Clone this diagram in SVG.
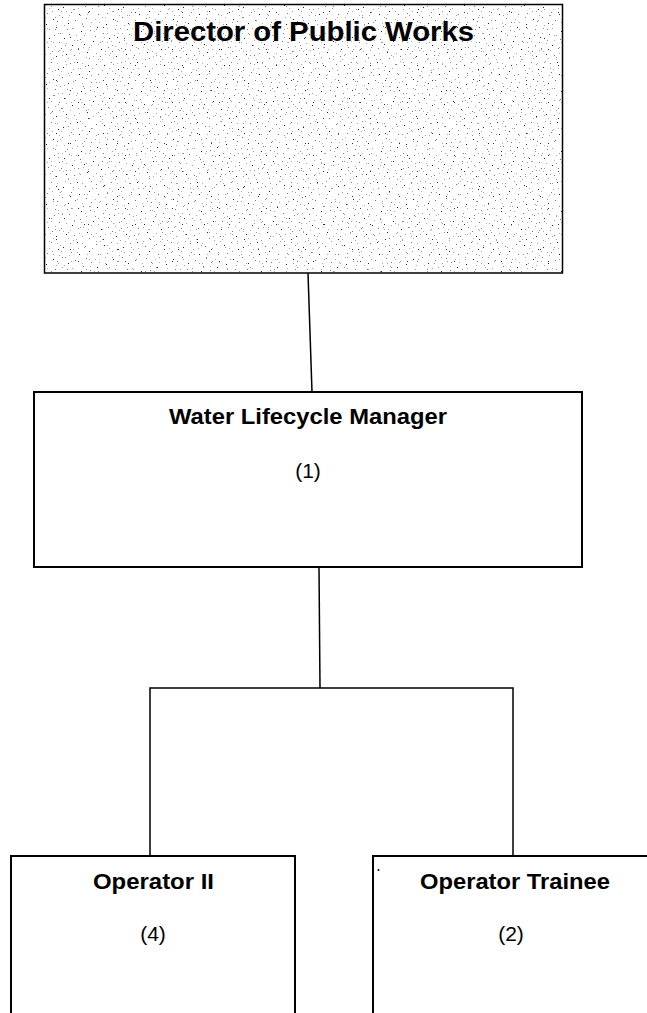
<svg xmlns="http://www.w3.org/2000/svg" width="647" height="1013" viewBox="0 0 647 1013">
<style>
.box{fill:#fff;stroke:#000;stroke-width:2}
.title{font-family:"Liberation Sans",Arial,sans-serif;font-weight:bold;text-anchor:middle;fill:#000}
.count{font-family:"Liberation Sans",Arial,sans-serif;text-anchor:middle;fill:#000}
.conn{stroke:#000;stroke-width:1.5;fill:none}
</style>
<defs>
<pattern id="stipple" x="0" y="0" width="60" height="60" patternUnits="userSpaceOnUse">
<rect width="60" height="60" fill="#fff"/>
<path fill="#aaa" d="M5 1h1v1h-1z M13 9h1v1h-1z M22 3h1v1h-1z M32 8h1v1h-1z M40 1h1v1h-1z M49 8h1v1h-1z M57 3h1v1h-1z M1 11h1v1h-1z M9 15h1v1h-1z M18 8h1v1h-1z M27 14h1v1h-1z M35 19h1v1h-1z M45 17h1v1h-1z M52 11h1v1h-1z M59 15h1v1h-1z M4 25h1v1h-1z M12 28h1v1h-1z M22 23h1v1h-1z M30 26h1v1h-1z M39 22h1v1h-1z M47 28h1v1h-1z M56 25h1v1h-1z M2 33h1v1h-1z M16 35h1v1h-1z M25 33h1v1h-1z M34 31h1v1h-1z M44 37h1v1h-1z M51 41h1v1h-1z M58 33h1v1h-1z M6 43h1v1h-1z M14 40h1v1h-1z M23 47h1v1h-1z M31 45h1v1h-1z M38 44h1v1h-1z M47 42h1v1h-1z M55 46h1v1h-1z M3 51h1v1h-1z M10 50h1v1h-1z M19 53h1v1h-1z M28 49h1v1h-1z M36 53h1v1h-1z M45 54h1v1h-1z M53 58h1v1h-1z M8 58h1v1h-1z M16 59h1v1h-1z M33 56h1v1h-1z M42 59h1v1h-1z M50 53h1v1h-1z M59 50h1v1h-1z M21 42h1v1h-1z"/>
<path fill="#777" d="M10 3h1v1h-1z M25 6h1v1h-1z M38 14h1v1h-1z M51 2h1v1h-1z M2 17h1v1h-1z M15 20h1v1h-1z M31 22h1v1h-1z M43 33h1v1h-1z M55 29h1v1h-1z M9 34h1v1h-1z M20 39h1v1h-1z M35 36h1v1h-1z M48 47h1v1h-1z M59 42h1v1h-1z M14 55h1v1h-1z M29 58h1v1h-1z M40 56h1v1h-1z M52 51h1v1h-1z M1 48h1v1h-1z M23 26h1v1h-1z M36 4h1v1h-1z M47 13h1v1h-1z M57 21h1v1h-1z M11 12h1v1h-1z M30 30h1v1h-1z M42 41h1v1h-1z M18 48h1v1h-1z M7 29h1v1h-1z M26 18h1v1h-1z M54 35h1v1h-1z"/>
<path fill="#222" d="M3 7h1v1h-1z M17 2h1v1h-1z M29 11h1v1h-1z M44 5h1v1h-1z M53 19h1v1h-1z M8 23h1v1h-1z M21 31h1v1h-1z M37 27h1v1h-1z M49 38h1v1h-1z M12 45h1v1h-1z M27 52h1v1h-1z M41 49h1v1h-1z M56 56h1v1h-1z M4 38h1v1h-1z M33 41h1v1h-1z M19 14h1v1h-1z M58 9h1v1h-1z M46 24h1v1h-1z M6 54h1v1h-1z M24 44h1v1h-1z"/>
</pattern>
<pattern id="stipple2" x="0" y="0" width="47" height="53" patternUnits="userSpaceOnUse">
<path fill="#999" d="M4 6h1v1h-1z M15 2h1v1h-1z M27 9h1v1h-1z M39 4h1v1h-1z M8 17h1v1h-1z M21 20h1v1h-1z M33 15h1v1h-1z M44 22h1v1h-1z M2 29h1v1h-1z M13 33h1v1h-1z M26 28h1v1h-1z M37 35h1v1h-1z M6 42h1v1h-1z M18 45h1v1h-1z M30 40h1v1h-1z M42 47h1v1h-1z M11 51h1v1h-1z M24 49h1v1h-1z M35 24h1v1h-1z M19 11h1v1h-1z"/>
<path fill="#333" d="M9 27h1v1h-1z M31 49h1v1h-1z M41 12h1v1h-1z M23 37h1v1h-1z"/>
</pattern>
</defs>
<g id="connectors">
<line class="conn" x1="308" y1="273" x2="312" y2="392"/>
<line class="conn" x1="319" y1="567" x2="320" y2="688"/>
<polyline class="conn" points="150,856 150,688 513,688 513,856"/>
</g>
<g id="director">
<rect x="44.5" y="4.5" width="518" height="268.5" fill="url(#stipple)"/>
<rect x="44.5" y="4.5" width="518" height="268.5" fill="url(#stipple2)" stroke="#000" stroke-width="1.5"/>
<text class="title" x="303.5" y="41" font-size="27" textLength="341" lengthAdjust="spacingAndGlyphs">Director of Public Works</text>
</g>
<g id="manager">
<rect class="box" x="34" y="392" width="548" height="175"/>
<text class="title" x="308" y="424" font-size="22" textLength="278" lengthAdjust="spacingAndGlyphs">Water Lifecycle Manager</text>
<text class="count" x="308" y="478" font-size="21">(1)</text>
</g>
<g id="operator2">
<rect class="box" x="11" y="856" width="284" height="170"/>
<text class="title" x="153.5" y="889" font-size="22" textLength="121" lengthAdjust="spacingAndGlyphs">Operator II</text>
<text class="count" x="153" y="941" font-size="21">(4)</text>
</g>
<g id="trainee">
<rect class="box" x="373" y="856" width="290" height="170"/>
<text class="title" x="515" y="889" font-size="22" textLength="190" lengthAdjust="spacingAndGlyphs">Operator Trainee</text>
<text class="count" x="511" y="941" font-size="21">(2)</text>
<circle cx="378.5" cy="870" r="1" fill="#000"/>
</g>
</svg>
